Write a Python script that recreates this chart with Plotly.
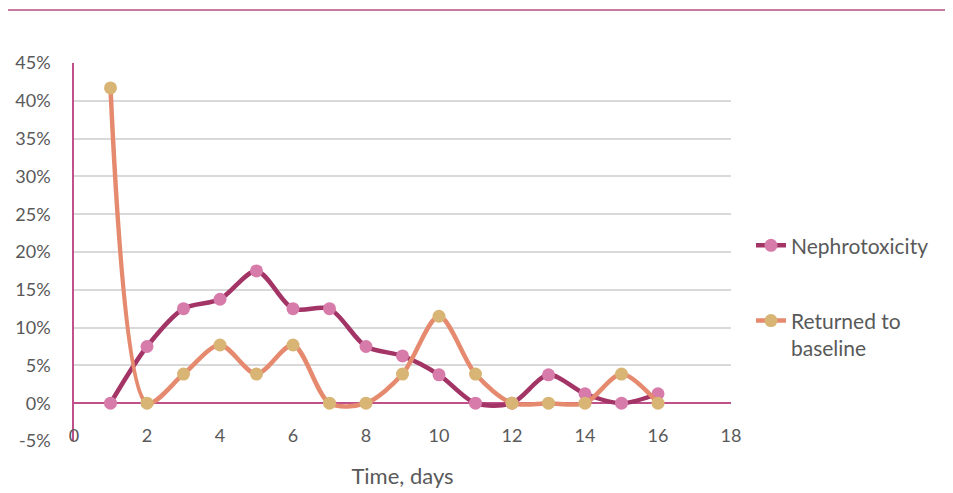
import plotly.graph_objects as go

days = list(range(1, 17))
nephrotoxicity = [0, 7.5, 12.5, 13.75, 17.5, 12.5, 12.5, 7.5, 6.25, 3.75, 0, 0, 3.75, 1.25, 0, 1.25]
returned = [41.7, 0, 3.85, 7.7, 3.85, 7.7, 0, 0, 3.85, 11.5, 3.85, 0, 0, 0, 3.85, 0]
y_ticks = [-5, 0, 5, 10, 15, 20, 25, 30, 35, 40, 45]
x_ticks = [0, 2, 4, 6, 8, 10, 12, 14, 16, 18]

FONT = "Lato, Open Sans, sans-serif"
TXT = "#595959"

L, R, T, B = 66, 230, 55, 60
PW, PH = 953 - L - R, 493 - T - B

fig = go.Figure()
fig.add_trace(go.Scatter(
    x=days, y=[v / 100 for v in nephrotoxicity], name="Nephrotoxicity", legendgroup="a",
    mode="lines+markers", line=dict(color="#A33466", width=4.5, shape="spline", smoothing=0.85),
    marker=dict(color="#D67BAA", size=13),
))
fig.add_trace(go.Scatter(
    x=days, y=[v / 100 for v in returned], name="Returned to<br>baseline", legendgroup="b",
    mode="lines+markers", line=dict(color="#E58A6E", width=4.5, shape="spline", smoothing=0.85),
    marker=dict(color="#D8B574", size=13),
))

fig.update_layout(
    width=953, height=493,
    margin=dict(l=L, r=R, t=T, b=B, autoexpand=False),
    paper_bgcolor="white", plot_bgcolor="white",
    font=dict(family=FONT, size=18, color=TXT),
    legend=dict(x=1.0304, y=0.571, xanchor="left", yanchor="top", valign="top",
                font=dict(size=21, color=TXT), tracegroupgap=45),
    xaxis=dict(range=[0, 18], tickvals=x_ticks, ticktext=[str(t) for t in x_ticks],
               showgrid=False, zeroline=False, showline=False, automargin=False,
               ticklabelstandoff=-18,
               title=dict(text="Time, days", font=dict(size=22, color=TXT), standoff=23)),
    yaxis=dict(range=[-0.05, 0.45], tickvals=[t / 100 for t in y_ticks],
               ticktext=[f"{t}%" for t in y_ticks], automargin=False,
               showgrid=True, gridcolor="#D9D9D9", gridwidth=1.5,
               zeroline=True, zerolinecolor="#C0508A", zerolinewidth=1.5,
               showline=True, linecolor="#C0508A", linewidth=1.5, ticklabelstandoff=18),
    shapes=[dict(type="line", xref="paper", yref="paper",
                 x0=(-2 - L) / PW, x1=(960 - L) / PW, y0=(PH + T - 2) / PH, y1=(PH + T - 2) / PH,
                 line=dict(color="#C77BA3", width=2))],
)
fig.write_html("out.html")
